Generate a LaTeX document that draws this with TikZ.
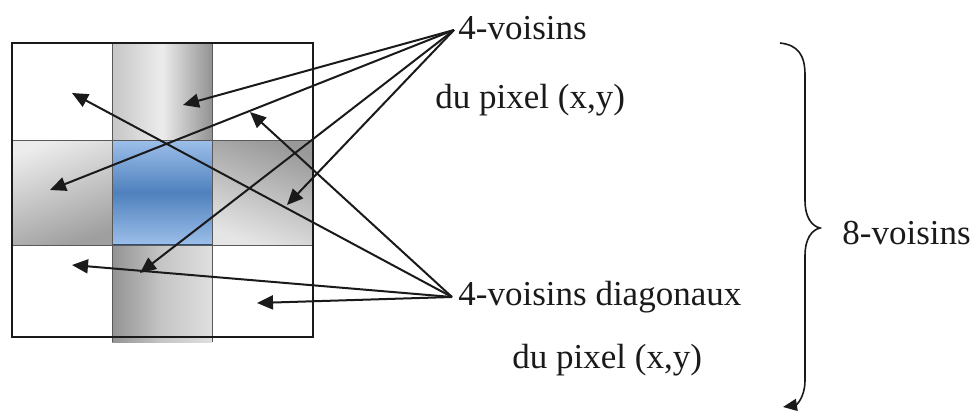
\documentclass[tikz,border=0pt]{standalone}
\usepackage{fontspec}
\setmainfont{Liberation Serif}
\usetikzlibrary{arrows.meta,positioning}
\definecolor{cellblue}{HTML}{4F81BD}
\definecolor{lightblue}{HTML}{9DBFEA}
\definecolor{ink}{HTML}{1A1A1A}
\tikzset{
  lbl/.style={font=\fontsize{17.5}{20}\selectfont,text=ink,anchor=west,inner sep=0pt},
  pointer/.style={draw=ink,line width=1pt,-{Triangle[length=8pt,width=7pt]}},
  gridline/.style={draw=gray!70!black,line width=0.5pt}
}
\begin{document}
\begin{tikzpicture}[x=0.5pt,y=-0.5pt]
  \useasboundingbox (0,0) rectangle (980,412);

  % shaded cells of the grid
  \shade[left color=gray!45,right color=gray!85,middle color=gray!15] (112,43) rectangle (212,140);
  \shade[left color=gray!85,right color=gray!25,middle color=gray!45] (112,245) rectangle (212,342);
  \shade[top color=gray!15,bottom color=gray!75,shading angle=20] (12,140) rectangle (112,245);
  \shade[top color=gray!80,bottom color=gray!20,shading angle=-20] (212,140) rectangle (313,245);
  \shade[top color=lightblue,bottom color=lightblue,middle color=cellblue] (112,140) rectangle (212,245);
  \draw[cellblue!60!black,line width=1pt] (112,245) -- (212,245);

  % grid lines and frame
  \draw[gridline] (112,43) -- (112,342) (212,43) -- (212,342);
  \draw[gridline] (12,140) -- (313,140) (12,245) -- (313,245);
  \draw[ink,line width=0.8pt] (12,43) rectangle (313,337);

  % labels
  \node[lbl] (v4) at (458,28) {4-voisins};
  \node[lbl] (v4pix) at (435,100) {du pixel (x,y)};
  \node[lbl] (diag) at (458,297) {4-voisins diagonaux};
  \node[lbl] (diagpix) at (512,360) {du pixel (x,y)};
  \node[lbl] (v8) at (842,233) {8-voisins};

  % arrow targets
  \coordinate (tm) at (183,105);
  \coordinate (ml) at (50,190);
  \coordinate (mr) at (287,205);
  \coordinate (bm) at (140,273);
  \coordinate (tl) at (72,93);
  \coordinate (tr) at (250,112);
  \coordinate (bl) at (72,265);
  \coordinate (br) at (257,303);
  \coordinate (v4s) at ([xshift=-2pt,yshift=-1pt]v4.west);
  \coordinate (diags) at ([xshift=-3pt]diag.west);

  \foreach \t in {tm,ml,mr,bm}
    \draw[pointer] (v4s) -- (\t);
  \foreach \t in {tl,tr,bl,br}
    \draw[pointer] (diags) -- (\t);

  % brace
  \draw[ink,line width=0.8pt,-{Triangle[length=7pt,width=6pt]}]
    (780,43) .. controls (798,45) and (805,55) .. (805,75) -- (805,200)
    .. controls (805,218) and (812,226) .. (820,228)
    .. controls (812,230) and (805,238) .. (805,256) -- (805,380)
    .. controls (805,398) and (796,405) .. (783,407);
\end{tikzpicture}
\end{document}
